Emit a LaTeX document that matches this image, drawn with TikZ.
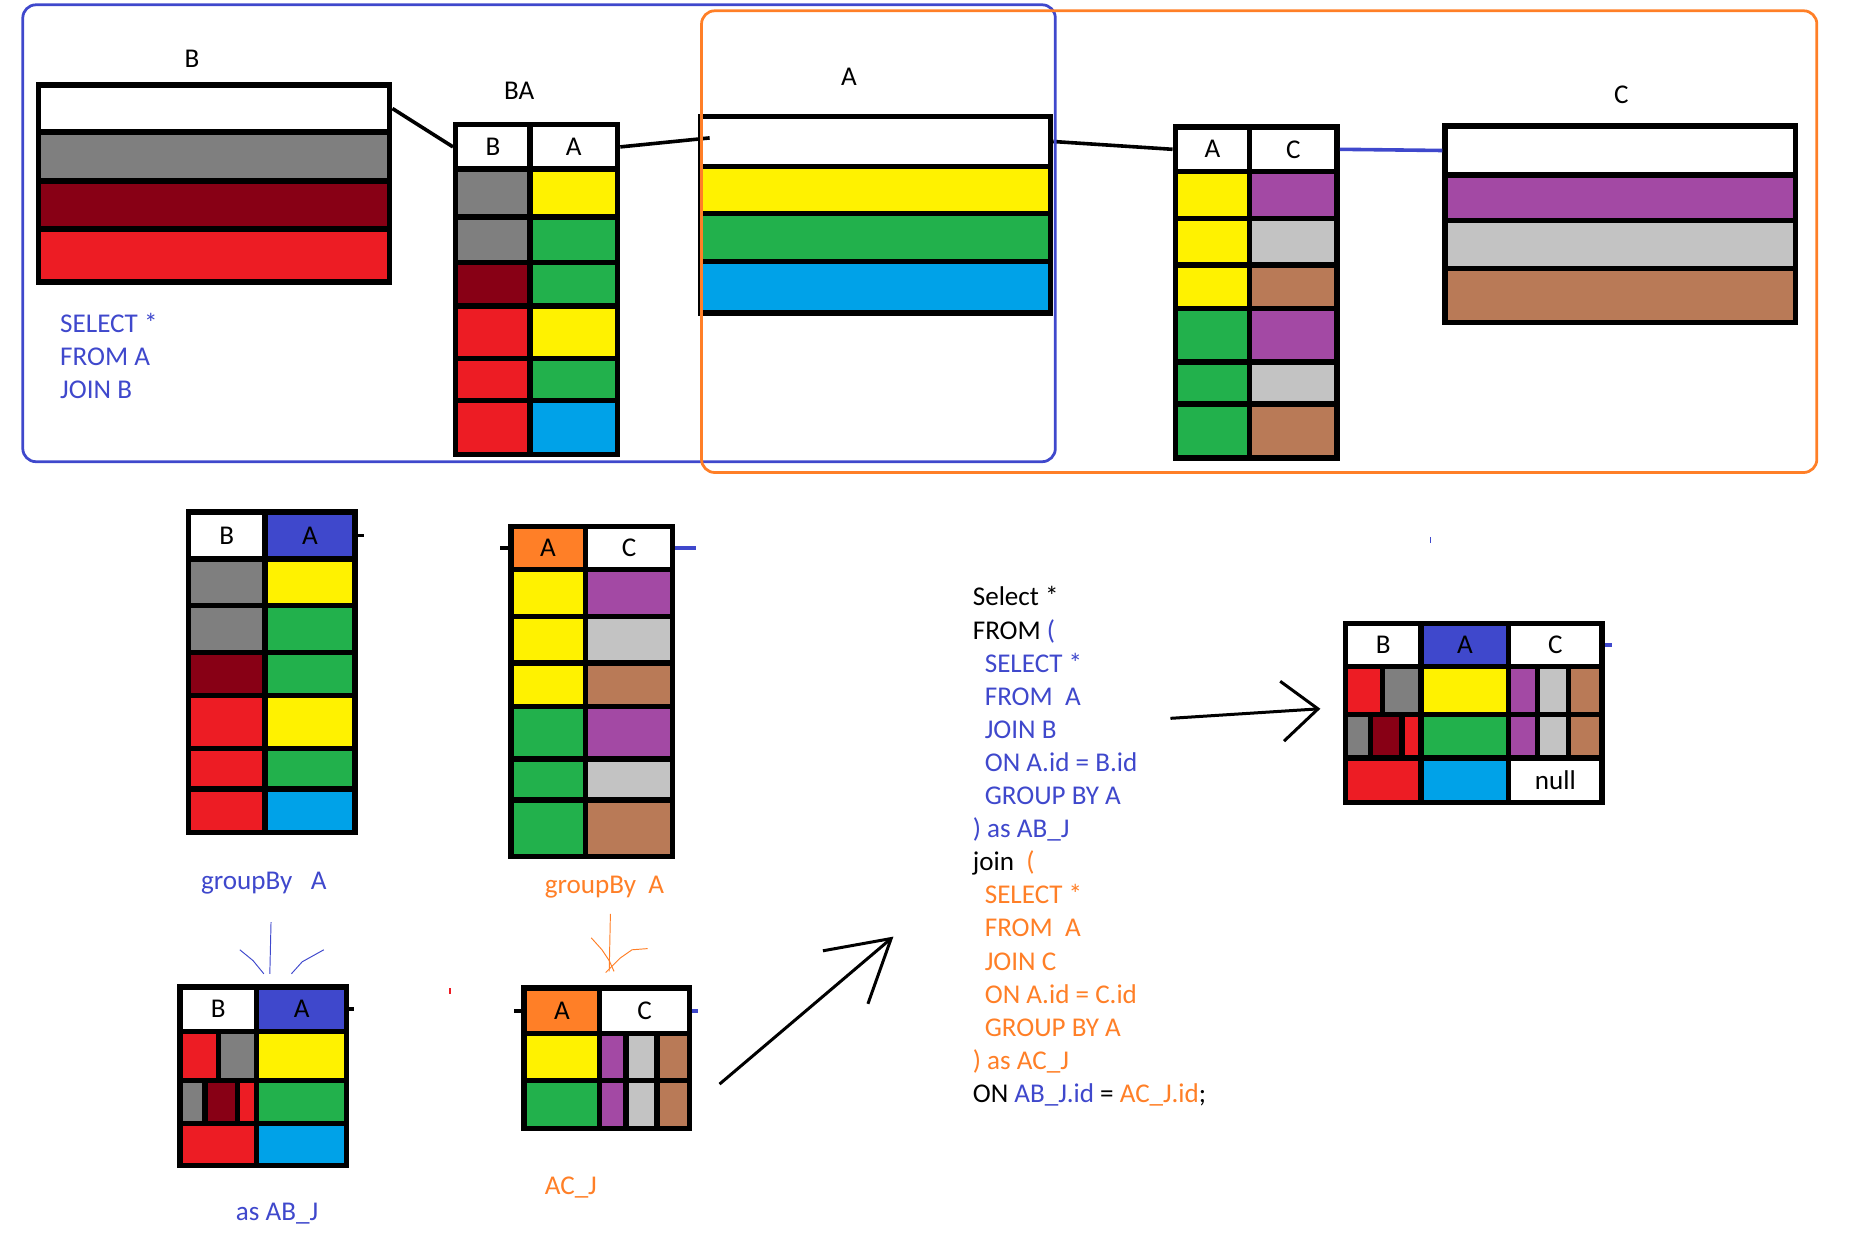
\documentclass[tikz,border=0pt]{standalone}
\usepackage{fontspec}
\setmainfont{Carlito}
\usepackage{tikz}
\usetikzlibrary{fit}
\usetikzlibrary{arrows.meta}
\definecolor{grayc}{HTML}{7F7F7F}
\definecolor{darkredc}{HTML}{880015}
\definecolor{redc}{HTML}{ED1C24}
\definecolor{yellowc}{HTML}{FFF200}
\definecolor{greenc}{HTML}{22B14C}
\definecolor{bluec}{HTML}{00A2E8}
\definecolor{purplec}{HTML}{A349A4}
\definecolor{silverc}{HTML}{C3C3C3}
\definecolor{brownc}{HTML}{B97A57}
\definecolor{indigoc}{HTML}{3F48CC}
\definecolor{orangec}{HTML}{FF7F27}
\newcommand{\calfont}{\fontsize{22.6}{27.6}\selectfont}

\begin{document}
\begin{tikzpicture}[
    x=1pt, y=-1pt,
    cell/.style={draw=black, line width=4.5pt},
    lbl/.style={inner sep=0pt, font=\calfont},
    hcell/.style={draw=black, line width=4.5pt, fill=white, inner sep=0pt, label={[lbl]center:#1}},
    hcell/.default={},
    sqltxt/.style={inner sep=0pt, align=left, font=\calfont},
    link/.style={line width=3pt},
    stub/.style={line width=3pt},
    frame/.style={line width=2.3pt, rounded corners=11pt},
    sketch/.style={line width=0.8pt},
    bigarrow/.style={line width=2.5pt}
    ]

    \path[use as bounding box] (0,0) rectangle (1561,1035);

    % top row: B, BA, A, AC, C
    \node[hcell, fit={(32,71) (325,110)}] (bigb-h) {};
    \foreach \ya/\yb/\c in {110/151/grayc, 151/191/darkredc, 191/235/redc}
      \draw[cell, fill=\c] (32,\ya) rectangle (325,\yb);
    \node[lbl] (bigb-l) at (160,49) {B};

    \node[hcell=B, fit={(380,104) (442,141)}] (ba-b) {};
    \node[hcell=A, fit={(442,104) (515,141)}] (ba-a) {};
    \foreach \ya/\yb/\cl/\cr in {141/181/grayc/yellowc, 181/219/grayc/greenc, 219/255/darkredc/greenc,
        255/299/redc/yellowc, 299/334/redc/greenc, 334/379/redc/bluec} {
      \draw[cell, fill=\cl] (380,\ya) rectangle (442,\yb);
      \draw[cell, fill=\cr] (442,\ya) rectangle (515,\yb);
    }
    \node[lbl] (ba-l) at (433,76) {BA};

    \node[hcell, fit={(584,97) (876,139)}] (biga-h) {};
    \foreach \ya/\yb/\c in {139/178/yellowc, 178/218/greenc, 218/261/bluec}
      \draw[cell, fill=\c] (584,\ya) rectangle (876,\yb);
    \node[lbl] (biga-l) at (708,64) {A};

    \node[hcell=A, fit={(980,106) (1042,143)}] (ac-a) {};
    \node[hcell=C, fit={(1042,106) (1115,143)}] (ac-c) {};
    \foreach \ya/\yb/\cl/\cr in {143/182/yellowc/purplec, 182/221/yellowc/silverc, 221/257/yellowc/brownc,
        257/302/greenc/purplec, 302/337/greenc/silverc, 337/382/greenc/brownc} {
      \draw[cell, fill=\cl] (980,\ya) rectangle (1042,\yb);
      \draw[cell, fill=\cr] (1042,\ya) rectangle (1115,\yb);
    }

    \node[hcell, fit={(1205,105) (1497,146)}] (bigc-h) {};
    \foreach \ya/\yb/\c in {146/184/purplec, 184/224/silverc, 224/269/brownc}
      \draw[cell, fill=\c] (1205,\ya) rectangle (1497,\yb);
    \node[lbl] (bigc-l) at (1352,79) {C};

    \node[sqltxt, text=indigoc, anchor=north west] (q-top) at (50,261) {SELECT *\\FROM A\\JOIN B};

    \draw[link] (bigb-h.east) -- (ba-b.west);
    \draw[link] (ba-a.east) -- ([xshift=10pt,yshift=3pt]biga-h.west);
    \draw[link] (biga-h.east) -- (ac-a.west);
    \draw[link, draw=indigoc] (ac-c.east) -- (bigc-h.west);

    \draw[frame, draw=indigoc] (19,4) rectangle (880,385);
    \draw[frame, draw=orangec] (585,9) rectangle (1515,394);

    % grouped tables
    \node[hcell=B, fit={(157,427) (221,466)}] (g1-b) {};
    \node[hcell=A, fill=indigoc, fit={(221,427) (296,466)}] (g1-a) {};
    \foreach \ya/\yb/\cl/\cr in {466/505/grayc/yellowc, 505/544/grayc/greenc, 544/580/darkredc/greenc,
        580/624/redc/yellowc, 624/658/redc/greenc, 658/694/redc/bluec} {
      \draw[cell, fill=\cl] (157,\ya) rectangle (221,\yb);
      \draw[cell, fill=\cr] (221,\ya) rectangle (296,\yb);
    }
    \draw[stub] (g1-a.east) -- ++(5,0);
    \node[lbl, text=indigoc] (g1-l) at (220,736) {groupBy\ \ \ A};

    \node[hcell=A, fill=orangec, fit={(426,439) (488,475)}] (g2-a) {};
    \node[hcell=C, fit={(488,439) (561,475)}] (g2-c) {};
    \foreach \ya/\yb/\cl/\cr in {475/514/yellowc/purplec, 514/553/yellowc/silverc, 553/589/yellowc/brownc,
        589/633/greenc/purplec, 633/667/greenc/silverc, 667/714/greenc/brownc} {
      \draw[cell, fill=\cl] (426,\ya) rectangle (488,\yb);
      \draw[cell, fill=\cr] (488,\ya) rectangle (561,\yb);
    }
    \draw[stub] (g2-a.west) -- ++(-7,0);
    \draw[stub, draw=indigoc] (g2-c.east) -- ++(17,0);
    \node[lbl, text=orangec] (g2-l) at (504,740) {groupBy\ \ A};

    \draw[sketch, draw=indigoc] (226,769) -- (225,812);
    \draw[sketch, draw=indigoc] (200,792) -- (211,801) -- (220,812);
    \draw[sketch, draw=indigoc] (270,792) -- (252,802) -- (243,812);
    \draw[sketch, draw=orangec] (509,762) -- (508,810);
    \draw[sketch, draw=orangec] (493,782) -- (502,792) -- (508,801) -- (512,810);
    \draw[sketch, draw=orangec] (540,791) -- (527,792) -- (517,799) -- (505,811);

    % joined tables
    \node[hcell=B, fit={(150,823) (214,860)}] (j1-b) {};
    \node[hcell=A, fill=indigoc, fit={(214,823) (289,860)}] (j1-a) {};
    \foreach \xa/\xb/\c in {150/182/redc, 182/214/grayc, 214/289/yellowc}
      \draw[cell, fill=\c] (\xa,860) rectangle (\xb,901);
    \foreach \xa/\xb/\c in {150/171/grayc, 171/198/darkredc, 198/214/redc, 214/289/greenc}
      \draw[cell, fill=\c] (\xa,901) rectangle (\xb,937);
    \foreach \xa/\xb/\c in {150/214/redc, 214/289/bluec}
      \draw[cell, fill=\c] (\xa,937) rectangle (\xb,972);
    \draw[stub] (j1-a.east) -- ++(4,0);
    \node[lbl, text=indigoc] (j1-l) at (231,1012) {as AB\_J};

    \node[hcell=A, fill=orangec, fit={(437,824) (500,862)}] (j2-a) {};
    \node[hcell=C, fit={(500,824) (575,862)}] (j2-c) {};
    \foreach \xa/\xb/\c in {500/522/purplec, 522/548/silverc, 548/575/brownc} {
      \draw[cell, fill=\c] (\xa,862) rectangle (\xb,901);
      \draw[cell, fill=\c] (\xa,901) rectangle (\xb,941);
    }
    \draw[cell, fill=yellowc] (437,862) rectangle (500,901);
    \draw[cell, fill=greenc] (437,901) rectangle (500,941);
    \draw[stub] (j2-a.west) -- ++(-6,0);
    \draw[stub, draw=indigoc] (j2-c.east) -- ++(5,0);
    \node[lbl, text=orangec] (j2-l) at (476,990) {AC\_J};

    \fill[redc] (374,824) rectangle (376,829);
    \draw[line width=1pt, draw=indigoc] (1193,448) -- (1193,453);

    \coordinate (arr1-s) at (600,904);
    \coordinate (arr1-e) at (745,781);
    \draw[bigarrow, -{Straight Barb[length=50pt, width=58pt, line width=2.5pt]}] (arr1-s) -- (arr1-e);

    % query
    \node[sqltxt, anchor=north west] (sql) at (811,489) {%
      Select *\\
      FROM \textcolor{indigoc}{(}\\
      \textcolor{indigoc}{\hspace*{10pt}SELECT *}\\
      \textcolor{indigoc}{\hspace*{10pt}FROM\ \ A}\\
      \textcolor{indigoc}{\hspace*{10pt}JOIN B}\\
      \textcolor{indigoc}{\hspace*{10pt}ON A.id = B.id}\\
      \textcolor{indigoc}{\hspace*{10pt}GROUP BY A}\\
      \textcolor{indigoc}{) as AB\_J}\\
      join\ \ \textcolor{orangec}{(}\\
      \textcolor{orangec}{\hspace*{10pt}SELECT *}\\
      \textcolor{orangec}{\hspace*{10pt}FROM\ \ A}\\
      \textcolor{orangec}{\hspace*{10pt}JOIN C}\\
      \textcolor{orangec}{\hspace*{10pt}ON A.id = C.id}\\
      \textcolor{orangec}{\hspace*{10pt}GROUP BY A}\\
      \textcolor{orangec}{) as AC\_J}\\
      ON \textcolor{indigoc}{AB\_J.id} = \textcolor{orangec}{AC\_J.id};};

    \coordinate (arr2-s) at (976,599);
    \coordinate (arr2-e) at (1101,591);
    \draw[bigarrow, -{Straight Barb[length=30pt, width=50pt, line width=2.5pt]}] (arr2-s) -- (arr2-e);

    % result
    \node[hcell=B, fit={(1122,520) (1185,556)}] (res-b) {};
    \node[hcell=A, fill=indigoc, fit={(1185,520) (1258,556)}] (res-a) {};
    \node[hcell=C, fit={(1258,520) (1336,556)}] (res-c) {};
    \foreach \xa/\xb/\c in {1122/1153/redc, 1153/1185/grayc, 1185/1258/yellowc}
      \draw[cell, fill=\c] (\xa,556) rectangle (\xb,596);
    \foreach \xa/\xb/\c in {1122/1143/grayc, 1143/1169/darkredc, 1169/1185/redc, 1185/1258/greenc}
      \draw[cell, fill=\c] (\xa,596) rectangle (\xb,632);
    \foreach \xa/\xb/\c in {1258/1282/purplec, 1282/1308/silverc, 1308/1336/brownc} {
      \draw[cell, fill=\c] (\xa,556) rectangle (\xb,596);
      \draw[cell, fill=\c] (\xa,596) rectangle (\xb,632);
    }
    \draw[cell, fill=redc] (1122,632) rectangle (1185,669);
    \draw[cell, fill=bluec] (1185,632) rectangle (1258,669);
    \node[hcell=null, fit={(1258,632) (1336,669)}] (res-n) {};
    \draw[stub, draw=indigoc] (res-c.east) -- ++(6,0);

  \end{tikzpicture}
\end{document}
